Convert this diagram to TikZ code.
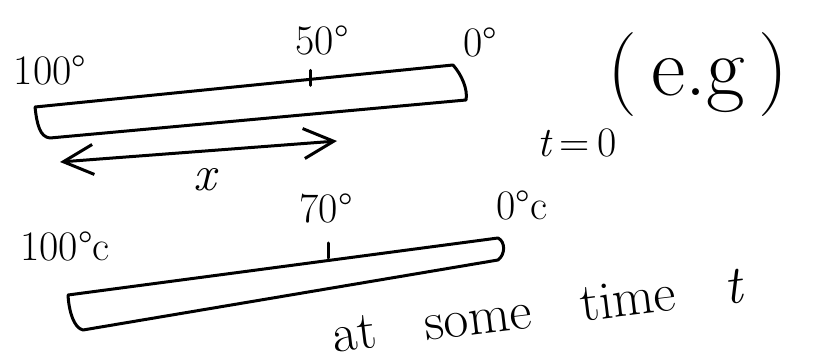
\documentclass[tikz,border=0pt]{standalone}
\usepackage{fontspec}
\usetikzlibrary{calc,arrows.meta}

\tikzset{
  rodline/.style={line width=3pt, line cap=round, line join=round},
  lbl/.style={inner sep=0pt, font=\fontsize{42}{46}\selectfont},
}

\begin{document}
\begin{tikzpicture}[x=1pt, y=-1pt, >={Straight Barb[length=30pt, width=30pt]}]
  \useasboundingbox (0,0) rectangle (816,363);

  % Rod at t = 0
  \coordinate (tlA) at (35,107);
  \coordinate (trA) at (453,65);
  \coordinate (brA) at (466,100);
  \coordinate (blA) at (50,138);
  \draw[rodline] (tlA) -- (trA) .. controls (462,75) and (468,90) .. (brA)
    -- (blA) .. controls (40,137) and (37,125) .. (tlA);
  \path (tlA) -- (trA) coordinate[pos=0.66] (midA);
  \draw[rodline] ($(midA)+(0,-9)$) -- ($(midA)+(0,6)$);

  \node[lbl] (hotA) at (50,70) {100°};
  \node[lbl] (midlblA) at (322,40) {50°};
  \node[lbl] (coldA) at (480,42) {0°};
  \node[inner sep=0pt, font=\fontsize{84}{90}\selectfont] (eg) at (698,75) {(\,e.g\,)};

  % Distance x along the rod
  \coordinate (xl) at (60,162);
  \coordinate (xr) at (337,141);
  \draw[rodline, <->] (xl) -- (xr);
  \node[inner sep=0pt, font=\fontsize{50}{54}\selectfont\itshape] (xlbl) at (205,180) {x};
  \node[lbl] (tzero) at (577,143) {\textit{t}\,=\,0};

  % Rod at some later time
  \coordinate (tlB) at (68,295);
  \coordinate (trB) at (498,238);
  \coordinate (brB) at (498,260);
  \coordinate (blB) at (83,330);
  \draw[rodline] (tlB) -- (trB) .. controls (506,242) and (505,255) .. (brB)
    -- (blB) .. controls (74,328) and (69,312) .. (tlB);
  \draw[rodline] (328,243) -- (328,258);

  \node[lbl] (hotB) at (65,246) {100°c};
  \node[lbl] (midlblB) at (326,208) {70°};
  \node[lbl] (coldB) at (522,205) {0°c};

  \node[inner sep=0pt, rotate=7, font=\fontsize{54}{60}\selectfont] (later)
    at (538,310) {at\ \ \ some\ \ \ time\ \ \ \textit{t}};
\end{tikzpicture}
\end{document}
